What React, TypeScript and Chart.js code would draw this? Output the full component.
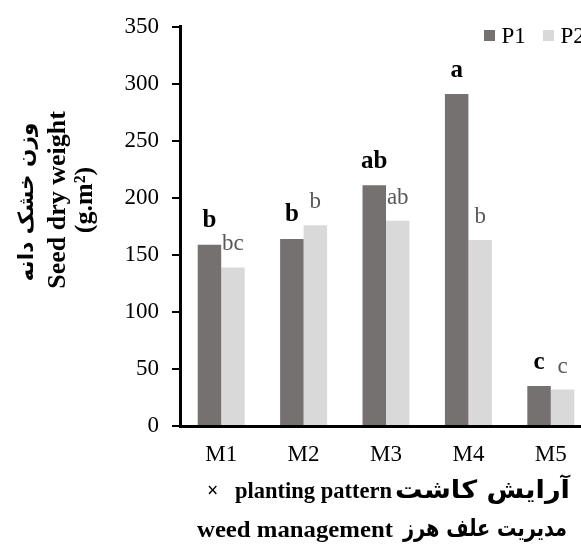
import { useEffect, useRef } from 'react';
import { Chart, registerables } from 'chart.js';

Chart.register(...registerables);

// Seed dry weight (g.m²) per weed management level, for two planting patterns
const categories = ['M1', 'M2', 'M3', 'M4', 'M5'];
const seriesNames = ['P1', 'P2'];
const p1Values = [159, 164, 211, 291, 35];
const p2Values = [139, 176, 180, 163, 32];
// Mean-comparison letters shown above each bar
const p1Letters = ['b', 'b', 'ab', 'a', 'c'];
const p2Letters = ['bc', 'b', 'ab', 'b', 'c'];
const yMin = 0;
const yMax = 350;
const yStep = 50;
const yTitleFa = 'وزن خشک دانه';
const yTitleEn = 'Seed dry weight';
const yTitleUnit = '(g.m²)';
const xTitleFa1 = 'آرایش کاشت';
const xTitleEn1 = 'planting pattern';
const xTitleFa2 = 'مدیریت علف هرز';
const xTitleEn2 = 'weed management';

const SERIF = "'Liberation Serif', 'Times New Roman', serif";
const ARABIC = "'DejaVu Sans', sans-serif";
const P1_COLOR = '#767171';
const P2_COLOR = '#D9D9D9';

const letterSets = [p1Letters, p2Letters];

// Draws a text run squeezed/stretched to a given width, starting at x.
function drawFitted(
  ctx: CanvasRenderingContext2D,
  text: string,
  font: string,
  x: number,
  y: number,
  width: number
) {
  ctx.save();
  ctx.font = font;
  ctx.textAlign = 'left';
  const w = ctx.measureText(text).width || 1;
  ctx.translate(x, y);
  ctx.scale(width / w, 1);
  ctx.fillText(text, 0, 0);
  ctx.restore();
}

const annotations = {
  id: 'annotations',
  afterDraw(chart: any) {
    const ctx = chart.ctx as CanvasRenderingContext2D;
    ctx.save();
    ctx.direction = 'ltr';

    // letters above bars
    chart.data.datasets.forEach((_ds: any, di: number) => {
      const meta = chart.getDatasetMeta(di);
      const letters = letterSets[di];
      ctx.font = di === 0 ? `bold 25px ${SERIF}` : `23px ${SERIF}`;
      ctx.fillStyle = di === 0 ? '#000000' : '#595959';
      ctx.textAlign = 'center';
      ctx.textBaseline = 'alphabetic';
      meta.data.forEach((bar: any, i: number) => {
        ctx.fillText(letters[i], bar.x, bar.y - (di === 0 ? 17.5 : 17));
      });
    });

    // legend in the top-right corner of the plot
    ctx.font = `23px ${SERIF}`;
    ctx.textAlign = 'left';
    ctx.textBaseline = 'alphabetic';
    let lx = 484;
    chart.data.datasets.forEach((ds: any) => {
      ctx.fillStyle = ds.backgroundColor;
      ctx.fillRect(lx, 30, 11, 11);
      ctx.fillStyle = '#000000';
      ctx.fillText(ds.label, lx + 17.5, 42.7);
      lx += 59;
    });

    // y-axis title (rotated, three lines)
    ctx.fillStyle = '#000000';
    ctx.textBaseline = 'middle';
    ctx.save();
    ctx.translate(28, 202);
    ctx.rotate(-Math.PI / 2);
    drawFitted(ctx, yTitleFa, `bold 21px ${ARABIC}`, -79.5, 0, 159);
    ctx.restore();
    ctx.textAlign = 'center';
    [
      [yTitleEn, 58],
      [yTitleUnit, 85],
    ].forEach(([line, x]) => {
      ctx.save();
      ctx.translate(x as number, 200);
      ctx.rotate(-Math.PI / 2);
      ctx.font = `bold 26px ${SERIF}`;
      ctx.fillText(line as string, 0, 0);
      ctx.restore();
    });

    // x-axis title (two lines, Latin and Persian runs side by side)
    ctx.textAlign = 'left';
    ctx.textBaseline = 'middle';
    ctx.font = `bold 20px ${SERIF}`;
    ctx.fillText('×', 207, 492);
    drawFitted(ctx, xTitleEn1, `bold 22.5px ${SERIF}`, 235, 492, 157);
    drawFitted(ctx, xTitleFa1, `bold 25px ${ARABIC}`, 395, 491, 175);
    drawFitted(ctx, xTitleEn2, `bold 23px ${SERIF}`, 197, 531, 196);
    drawFitted(ctx, xTitleFa2, `bold 24px ${ARABIC}`, 403, 530, 164);

    ctx.restore();
  },
};

export default function App() {
  const canvasRef = useRef<HTMLCanvasElement | null>(null);

  useEffect(() => {
    const canvas = canvasRef.current;
    if (!canvas) return;
    const chart = new Chart(canvas, {
      type: 'bar',
      data: {
        labels: categories,
        datasets: [
          {
            label: seriesNames[0],
            data: p1Values,
            backgroundColor: P1_COLOR,
            barPercentage: 1,
            categoryPercentage: 0.57,
          },
          {
            label: seriesNames[1],
            data: p2Values,
            backgroundColor: P2_COLOR,
            barPercentage: 1,
            categoryPercentage: 0.57,
          },
        ],
      },
      options: {
        responsive: false,
        devicePixelRatio: 1,
        animation: false,
        layout: { padding: { top: 21, right: 8, bottom: 0, left: 0 } },
        plugins: {
          legend: { display: false },
          tooltip: { enabled: false },
        },
        scales: {
          x: {
            grid: { display: false, drawTicks: false, tickLength: 0 },
            border: { display: true, color: '#000000', width: 3 },
            ticks: {
              color: '#000000',
              padding: 15,
              font: { family: SERIF, size: 23 },
            },
            afterFit: (scale: any) => {
              scale.height = 119;
            },
          },
          y: {
            min: yMin,
            max: yMax,
            grid: {
              display: true,
              drawOnChartArea: false,
              drawTicks: true,
              tickLength: 8,
              color: '#000000',
              lineWidth: 2,
            },
            border: { display: true, color: '#000000', width: 3 },
            ticks: {
              stepSize: yStep,
              color: '#000000',
              padding: 13,
              font: { family: SERIF, size: 23 },
            },
            afterFit: (scale: any) => {
              scale.width = 180;
            },
          },
        },
      },
      plugins: [annotations],
    });
    return () => chart.destroy();
  }, []);

  return (
    <div
      style={{
        position: 'fixed',
        left: 0,
        top: 0,
        width: 581,
        height: 545,
        overflow: 'hidden',
        background: '#ffffff',
      }}
    >
      <canvas
        ref={canvasRef}
        width={600}
        height={545}
        style={{ display: 'block', width: 600, height: 545 }}
      />
    </div>
  );
}
